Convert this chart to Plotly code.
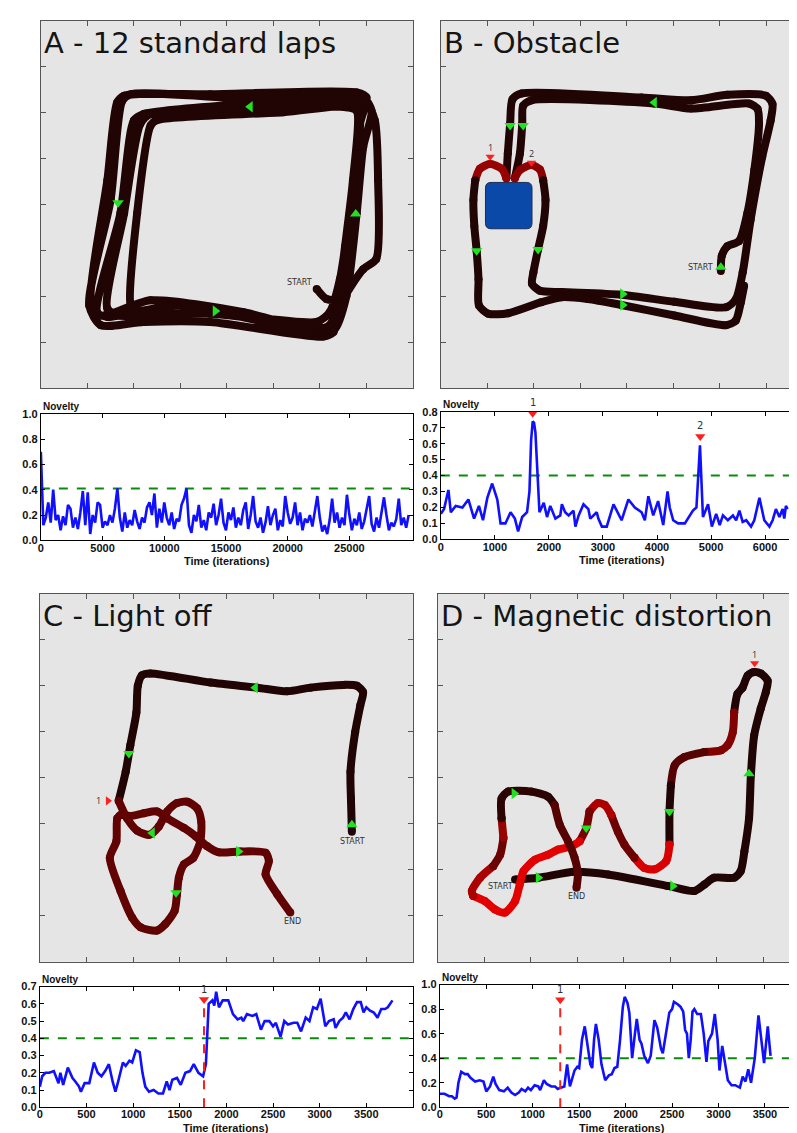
import plotly.graph_objects as go

W, H = 797, 1133

# ------------------------------------------------------------------ map data
# trajectories in map units (1 unit = 1 tick step), y up.
# each map is cut into pieces; a piece has one novelty level (0 = black, 1 = bright red)
A_X = [[5.93, 6.14, 6.39,
        6.50, 6.71, 6.82, 6.86, 6.71, 5.21, 2.50, 2.36, 2.07, 1.93, 2.07, 3.64, 5.93, 6.21,
        6.43, 6.64, 6.86, 7.00, 6.79, 3.64, 1.79, 1.64, 1.43, 1.07, 1.21, 1.50, 2.36, 4.36, 6.00, 6.32,
        6.57, 6.79, 6.93, 7.11, 6.93, 5.07, 1.93, 1.75, 1.50, 1.04, 1.29, 2.21, 3.64, 6.07, 6.29,
        6.43, 6.93, 7.21, 7.25, 7.18, 7.00, 5.79, 4.36, 2.21, 2.00, 1.71, 1.21, 1.43, 2.93, 5.79, 6.21,
        6.39, 6.54, 6.71, 6.79, 6.57, 4.36, 2.36, 2.14, 1.79, 1.43, 1.71, 3.64, 6.00]]
A_Y = [[2.16, 1.94, 1.94,
        2.37, 3.81, 5.25, 6.04, 6.15, 6.01, 5.84, 5.72, 3.81, 1.80, 1.62, 1.65, 1.44, 1.65,
        2.37, 3.81, 5.76, 6.33, 6.44, 6.40, 6.37, 6.22, 4.53, 1.94, 1.58, 1.62, 1.91, 1.65, 1.22, 1.29,
        2.01, 3.81, 5.25, 6.04, 6.33, 6.27, 6.40, 6.26, 4.10, 1.80, 1.37, 1.44, 1.44, 1.12, 1.22,
        1.80, 2.59, 2.81, 4.53, 5.83, 6.19, 6.29, 6.19, 5.97, 5.83, 3.81, 1.65, 1.55, 1.80, 1.26, 1.37,
        1.94, 3.09, 4.53, 6.04, 6.12, 6.08, 5.97, 5.76, 3.81, 1.73, 1.58, 1.62, 1.33]]
A_LEVEL = [0.05]
A_ARROW_X = [4.50, 1.66, 3.75, 6.77]
A_ARROW_Y = [6.13, 4.04, 1.68, 3.79]
A_ARROW_DIR = ["left", "down", "right", "up"]
A_LABELS = ["START"]
A_LABEL_X = [5.57]
A_LABEL_Y = [2.29]

B_X = [[6.02, 6.04, 6.16, 6.41, 6.59, 6.74, 6.84, 6.81, 6.63, 5.38, 4.59, 1.95, 1.77, 1.75, 1.70, 1.59],
       [1.70, 1.95, 2.13, 2.20],
       [2.25, 2.20, 2.09, 1.99, 1.96, 2.13, 2.59, 3.88, 5.02, 6.13, 6.34, 6.49, 6.66, 6.91, 7.09, 7.13,
        6.99, 6.16, 5.38, 4.31, 1.74, 1.54, 1.49, 1.44, 1.41],
       [1.31, 1.06, 0.84, 0.74],
       [0.70, 0.72, 0.77, 0.81, 0.82, 1.02, 1.45, 2.16, 2.59, 3.16, 3.88, 5.02, 6.13, 6.34, 6.45, 6.52]]
B_Y = [[2.55, 2.88, 3.09, 3.20, 3.81, 4.75, 5.76, 6.08, 6.20, 6.09, 6.20, 6.27, 6.15, 5.76, 5.11, 4.57],
       [4.75, 4.86, 4.76, 4.53],
       [4.10, 3.53, 3.02, 2.52, 2.27, 2.12, 2.09, 2.03, 1.88, 1.76, 1.93, 2.52, 3.67, 5.04, 5.83, 6.19,
        6.37, 6.39, 6.27, 6.33, 6.42, 6.29, 5.76, 5.11, 4.57],
       [4.78, 4.88, 4.78, 4.53],
       [4.10, 3.53, 2.99, 2.37, 1.80, 1.62, 1.63, 1.87, 1.98, 1.94, 1.81, 1.58, 1.37, 1.47, 1.87, 2.23]]
B_LEVEL = [0.05, 0.55, 0.05, 0.6, 0.05]
B_ARROW_X = [4.59, 1.49, 1.77, 0.77, 2.09, 3.91, 3.91, 6.02]
B_ARROW_Y = [6.22, 5.72, 5.72, 2.99, 3.02, 2.05, 1.81, 2.63]
B_ARROW_DIR = ["left", "down", "down", "down", "down", "right", "right", "up"]
B_LABELS = ["START"]
B_LABEL_X = [5.59]
B_LABEL_Y = [2.63]
B_EVENT_X = [1.06, 1.95]
B_EVENT_Y = [5.04, 4.91]
B_EVENT_NAME = ["1", "2"]
B_OBSTACLE = [0.96, 1.96, 3.47, 4.48]  # x0, x1, y0, y1

C_X = [[6.69, 6.67, 6.66, 6.76, 6.87, 6.93, 6.80, 6.51, 5.80, 5.30, 4.66, 3.66, 2.37, 2.19, 2.10, 2.07,
        1.94, 1.84, 1.69],
       [1.87, 2.09, 2.34, 2.55, 2.73, 2.94, 3.16, 3.37, 3.46, 3.44, 3.29, 3.09, 2.98, 2.94, 2.89, 2.69,
        2.51, 2.16, 1.98, 1.73, 1.50, 1.64, 1.66, 1.73, 1.94, 2.23, 2.51, 2.73, 3.09, 3.34, 3.59, 3.84,
        4.30, 4.84, 4.91, 4.84, 5.09, 5.37]]
C_Y = [[2.83, 3.55, 4.13, 4.99, 5.57, 5.86, 6.00, 6.02, 5.96, 5.88, 5.96, 6.07, 6.27, 6.23, 6.00, 5.42,
        4.71, 4.13, 3.50],
       [3.12, 2.85, 2.76, 2.94, 3.27, 3.45, 3.48, 3.34, 3.05, 2.62, 2.26, 2.12, 1.83, 1.47, 1.11, 0.82,
        0.68, 0.75, 0.96, 1.54, 2.26, 2.62, 3.12, 3.19, 3.17, 3.23, 3.27, 3.12, 2.91, 2.73, 2.51, 2.38,
        2.40, 2.37, 2.19, 1.90, 1.47, 1.07]]
C_LEVEL = [0.05, 0.35]
C_ARROW_X = [4.62, 1.91, 2.41, 2.92, 4.26, 6.69]
C_ARROW_Y = [5.96, 4.53, 2.80, 1.50, 2.40, 2.98]
C_ARROW_DIR = ["left", "down", "left", "down", "right", "up"]
C_LABELS = ["START", "END"]
C_LABEL_X = [6.71, 5.42]
C_LABEL_Y = [2.62, 0.87]
C_EVENT_X = [1.46]
C_EVENT_Y = [3.50]
C_EVENT_NAME = ["1"]

D_X = [[1.66, 2.16, 2.94, 3.66, 4.94, 5.51, 5.73, 5.94, 6.37, 6.51, 6.59, 6.69, 6.73, 6.80, 6.94, 7.05,
        7.09, 6.94, 6.80, 6.66, 6.55, 6.44, 6.37],
       [6.34, 6.23, 6.09, 5.73],
       [5.30, 5.09, 5.01],
       [4.98, 4.98],
       [4.91, 4.66, 4.44, 4.23],
       [4.01, 3.87, 3.73],
       [3.59, 3.44, 3.26],
       [3.19, 3.05],
       [2.87, 2.59, 2.37, 2.09, 1.84, 1.76, 1.66, 1.44, 1.23, 1.01, 0.76],
       [0.73, 0.91, 1.19],
       [1.34, 1.41],
       [1.37],
       [1.37, 1.51, 2.01, 2.37, 2.51],
       [2.62, 2.80, 2.94, 3.01, 2.98]]
D_Y = [[1.79, 1.83, 1.96, 1.90, 1.65, 1.54, 1.68, 1.83, 1.83, 1.97, 2.40, 3.12, 4.06, 4.92, 5.50, 5.86,
        6.11, 6.27, 6.30, 6.22, 5.96, 5.82, 5.42],
       [4.99, 4.71, 4.60, 4.56],
       [4.45, 4.27, 3.84],
       [3.27, 2.55],
       [2.19, 2.01, 2.04, 2.26],
       [2.55, 2.83, 3.19],
       [3.41, 3.45, 3.27],
       [2.91, 2.62],
       [2.51, 2.44, 2.33, 2.22, 1.97, 1.68, 1.32, 1.07, 1.14, 1.32, 1.43],
       [1.54, 1.83, 2.08],
       [2.33, 2.69],
       [3.12],
       [3.55, 3.70, 3.70, 3.59, 3.41],
       [2.98, 2.62, 2.26, 1.90, 1.61]]
D_LEVEL = [0.05, 0.5, 0.3, 0.05, 0.9, 0.4, 0.7, 0.45, 0.95, 0.7, 0.4, 0.6, 0.1, 0.3]
D_ARROW_X = [2.16, 5.05, 6.69, 4.98, 3.19, 1.64]
D_ARROW_Y = [1.83, 1.65, 4.09, 3.27, 2.91, 3.66]
D_ARROW_DIR = ["right", "right", "up", "down", "down", "right"]
D_LABELS = ["START", "END"]
D_LABEL_X = [1.34, 2.98]
D_LABEL_Y = [1.63, 1.41]
D_EVENT_X = [6.81]
D_EVENT_Y = [6.49]
D_EVENT_NAME = ["1"]

# ------------------------------------------------------------------ novelty data
NA_T = list(range(0, 30000, 200))
NA_V = [0.70, 0.12, 0.18, 0.30, 0.14, 0.40, 0.16, 0.20, 0.08, 0.19,
        0.12, 0.28, 0.25, 0.10, 0.18, 0.09, 0.22, 0.39, 0.12, 0.38,
        0.05, 0.20, 0.14, 0.30, 0.28, 0.10, 0.15, 0.12, 0.20, 0.14,
        0.25, 0.41, 0.18, 0.07, 0.22, 0.10, 0.16, 0.12, 0.24, 0.15,
        0.09, 0.18, 0.14, 0.26, 0.30, 0.20, 0.37, 0.10, 0.25, 0.14,
        0.30, 0.18, 0.12, 0.22, 0.09, 0.17, 0.15, 0.28, 0.33, 0.41,
        0.12, 0.06, 0.20, 0.15, 0.28, 0.10, 0.16, 0.08, 0.22, 0.18,
        0.29, 0.12, 0.20, 0.33, 0.14, 0.08, 0.22, 0.16, 0.26, 0.10,
        0.18, 0.12, 0.24, 0.30, 0.09, 0.20, 0.35, 0.15, 0.10, 0.18,
        0.06, 0.14, 0.27, 0.12, 0.20, 0.25, 0.08, 0.16, 0.11, 0.35,
        0.22, 0.13, 0.18, 0.30, 0.12, 0.22, 0.08, 0.17, 0.14, 0.20,
        0.11, 0.25, 0.35, 0.18, 0.07, 0.12, 0.05, 0.16, 0.33, 0.14,
        0.22, 0.10, 0.18, 0.12, 0.36, 0.20, 0.08, 0.17, 0.12, 0.22,
        0.09, 0.15, 0.24, 0.35, 0.13, 0.07, 0.18, 0.10, 0.22, 0.34,
        0.20, 0.08, 0.14, 0.11, 0.17, 0.33, 0.12, 0.18, 0.10, 0.20]
NA_THRESHOLD = 0.41

NB_T = [0, 60, 140, 185, 275, 400, 510, 615, 705, 780, 860, 950, 1045, 1105, 1195, 1290, 1370, 1430,
        1505, 1595, 1640, 1670, 1700, 1725, 1750, 1825, 1905, 1965, 2025, 2120, 2210, 2240, 2300,
        2365, 2455, 2490, 2550, 2640, 2730, 2765, 2885, 2915, 2980, 3070, 3195, 3285, 3345, 3470,
        3590, 3715, 3775, 3840, 3930, 4020, 4115, 4195, 4235, 4300, 4390, 4515, 4575, 4665, 4730,
        4795, 4850, 4945, 5015, 5095, 5160, 5220, 5310, 5405, 5465, 5525, 5585, 5650, 5740, 5800,
        5895, 5985, 6080, 6140, 6200, 6265, 6325, 6355, 6385, 6415]
NB_V = [0.16, 0.19, 0.31, 0.17, 0.21, 0.20, 0.25, 0.13, 0.21, 0.12, 0.26, 0.35, 0.25, 0.10, 0.10,
        0.17, 0.13, 0.05, 0.14, 0.17, 0.30, 0.62, 0.74, 0.73, 0.67, 0.17, 0.23, 0.14, 0.21, 0.13,
        0.15, 0.22, 0.17, 0.15, 0.18, 0.08, 0.15, 0.22, 0.19, 0.13, 0.17, 0.13, 0.08, 0.08, 0.22,
        0.16, 0.12, 0.25, 0.20, 0.17, 0.12, 0.27, 0.15, 0.24, 0.09, 0.30, 0.20, 0.12, 0.10, 0.10,
        0.13, 0.18, 0.20, 0.59, 0.14, 0.22, 0.08, 0.16, 0.09, 0.15, 0.12, 0.15, 0.12, 0.18, 0.11,
        0.12, 0.08, 0.12, 0.26, 0.12, 0.08, 0.12, 0.19, 0.14, 0.19, 0.13, 0.21, 0.19]
NB_THRESHOLD = 0.40
NB_EVENT_T = [1700, 4800]
NB_EVENT_V = [0.79, 0.645]
NB_EVENT_NAME = ["1", "2"]

NC_T = [0, 25, 60, 100, 150, 200, 220, 250, 300, 350, 380, 420, 440, 480, 530, 580, 620, 660, 700,
        740, 780, 810, 840, 890, 920, 960, 990, 1030, 1070, 1100, 1130, 1170, 1220, 1270, 1320, 1360,
        1390, 1420, 1470, 1510, 1560, 1610, 1650, 1700, 1750, 1780, 1810, 1850, 1870, 1890, 1920,
        1960, 2020, 2070, 2120, 2160, 2180, 2220, 2280, 2320, 2370, 2410, 2460, 2500, 2530, 2580,
        2620, 2660, 2720, 2760, 2800, 2850, 2890, 2930, 2970, 3010, 3060, 3100, 3150, 3170, 3210,
        3250, 3280, 3320, 3360, 3400, 3440, 3470, 3500, 3540, 3580, 3620, 3660, 3700, 3730, 3780]
NC_V = [0.12, 0.18, 0.20, 0.20, 0.21, 0.14, 0.20, 0.13, 0.23, 0.17, 0.15, 0.12, 0.09, 0.14, 0.14,
        0.26, 0.20, 0.18, 0.21, 0.25, 0.15, 0.09, 0.15, 0.26, 0.24, 0.27, 0.26, 0.33, 0.32, 0.20,
        0.12, 0.09, 0.10, 0.08, 0.08, 0.15, 0.10, 0.16, 0.17, 0.13, 0.20, 0.21, 0.25, 0.20, 0.18,
        0.25, 0.60, 0.62, 0.59, 0.67, 0.58, 0.62, 0.62, 0.54, 0.51, 0.52, 0.50, 0.54, 0.53, 0.54,
        0.45, 0.50, 0.50, 0.47, 0.49, 0.41, 0.50, 0.48, 0.49, 0.49, 0.44, 0.52, 0.50, 0.58, 0.57,
        0.63, 0.47, 0.50, 0.51, 0.46, 0.50, 0.52, 0.55, 0.51, 0.57, 0.61, 0.61, 0.55, 0.58, 0.56,
        0.55, 0.52, 0.57, 0.57, 0.58, 0.62]
NC_THRESHOLD = 0.40
NC_EVENT_T = [1760]
NC_EVENT_V = [0.625]
NC_EVENT_NAME = ["1"]

ND_T = [0, 50, 100, 130, 160, 180, 200, 230, 270, 300, 330, 380, 430, 470, 500, 540, 575, 600, 640,
        690, 730, 770, 810, 850, 880, 920, 950, 980, 1020, 1060, 1080, 1120, 1150, 1200, 1240, 1270,
        1300, 1340, 1370, 1400, 1450, 1480, 1500, 1530, 1560, 1590, 1620, 1640, 1660, 1680, 1710,
        1740, 1780, 1820, 1850, 1880, 1910, 1940, 1970, 1990, 2020, 2040, 2070, 2100, 2120, 2150,
        2170, 2200, 2240, 2270, 2310, 2340, 2380, 2400, 2440, 2470, 2500, 2520, 2560, 2590, 2620,
        2640, 2660, 2680, 2700, 2720, 2740, 2770, 2810, 2840, 2870, 2890, 2930, 2960, 2990, 3010,
        3040, 3070, 3100, 3140, 3180, 3230, 3260, 3290, 3320, 3350, 3390, 3430, 3460, 3490, 3530, 3560]
ND_V = [0.11, 0.11, 0.09, 0.09, 0.07, 0.08, 0.20, 0.29, 0.27, 0.27, 0.24, 0.21, 0.22, 0.21, 0.13,
        0.17, 0.25, 0.19, 0.14, 0.13, 0.16, 0.12, 0.10, 0.12, 0.15, 0.13, 0.16, 0.14, 0.18, 0.17,
        0.14, 0.22, 0.19, 0.17, 0.17, 0.15, 0.16, 0.17, 0.35, 0.17, 0.30, 0.33, 0.32, 0.55, 0.66,
        0.50, 0.35, 0.32, 0.55, 0.68, 0.55, 0.35, 0.22, 0.26, 0.27, 0.32, 0.33, 0.55, 0.82, 0.90,
        0.85, 0.77, 0.40, 0.60, 0.72, 0.55, 0.52, 0.42, 0.36, 0.42, 0.71, 0.65, 0.48, 0.44, 0.62,
        0.77, 0.80, 0.86, 0.84, 0.82, 0.78, 0.63, 0.60, 0.40, 0.55, 0.78, 0.80, 0.76, 0.76, 0.60,
        0.37, 0.54, 0.60, 0.76, 0.55, 0.30, 0.50, 0.35, 0.22, 0.18, 0.18, 0.16, 0.25, 0.21, 0.31,
        0.20, 0.40, 0.75, 0.55, 0.36, 0.66, 0.42]
ND_THRESHOLD = 0.40
ND_EVENT_T = [1296]
ND_EVENT_V = [0.876]
ND_EVENT_NAME = ["1"]

# ------------------------------------------------------------------ styling
MAP_BG = "#e5e5e5"
FRAME = "#555555"
ARROW_GREEN = "#22e022"
EVENT_RED = "#ff1e1e"
TICK_FONT = dict(family="Liberation Sans, Arial, sans-serif", size=11, color="#111111", weight="bold")
PATH_WIDTH = 8

fig = go.Figure()
shapes, annotations, layout_axes = [], [], {}


def refs(n):
    return ("x" if n == 1 else f"x{n}"), ("y" if n == 1 else f"y{n}")


def level_color(level):
    return f"rgb({round(22 + 215 * level)},{round(4 * (1 - level))},{round(4 * (1 - level))})"


def dom_x(left, right):
    return [left / W, min(right, W) / W]


def dom_y(top, bottom):
    return [1 - bottom / H, 1 - top / H]


def add_map(n, box, title, xs, ys, levels, ax, ay, adir, lab, lx, ly,
            ev_x=(), ev_y=(), ev_name=(), ev_dir="down"):
    left, top, right, bottom = box
    xr, yr = refs(n)
    x_max = 8 * (min(right, W) - left) / (right - left)
    common = dict(showgrid=False, zeroline=False, showticklabels=False, ticks="inside",
                  ticklen=5, tickcolor=FRAME, tickvals=[1, 2, 3, 4, 5, 6, 7], showline=True,
                  linecolor=FRAME, linewidth=1, mirror="ticks", fixedrange=True)
    layout_axes[xr.replace("x", "xaxis")] = dict(domain=dom_x(left, right), range=[0, x_max],
                                                 anchor=yr, **common)
    layout_axes[yr.replace("y", "yaxis")] = dict(domain=dom_y(top, bottom), range=[0, 8],
                                                 anchor=xr, **common)
    shapes.append(dict(type="rect", xref=f"{xr} domain", yref=f"{yr} domain", x0=0, x1=1, y0=0,
                       y1=1, fillcolor=MAP_BG, line_width=0, layer="below"))

    # each piece starts at the last point of the previous one; markers round off the joints
    prev = None
    for px, py, lv in zip(xs, ys, levels):
        tx = ([prev[0]] if prev else []) + list(px)
        ty = ([prev[1]] if prev else []) + list(py)
        col = level_color(lv)
        fig.add_trace(go.Scatter(x=tx, y=ty, mode="lines+markers", xaxis=xr, yaxis=yr,
                                 line=dict(color=col, width=PATH_WIDTH, shape="spline",
                                           smoothing=0.7),
                                 marker=dict(size=PATH_WIDTH, color=col, line_width=0),
                                 hoverinfo="skip"))
        prev = (px[-1], py[-1])

    fig.add_trace(go.Scatter(x=ax, y=ay, mode="markers", xaxis=xr, yaxis=yr,
                             marker=dict(symbol=[f"triangle-{d}" for d in adir], size=10,
                                         color=ARROW_GREEN, line_width=0),
                             hoverinfo="skip"))
    if ev_x:
        fig.add_trace(go.Scatter(x=list(ev_x), y=list(ev_y), mode="markers", xaxis=xr, yaxis=yr,
                                 marker=dict(symbol=f"triangle-{ev_dir}", size=8, color=EVENT_RED,
                                             line_width=0),
                                 hoverinfo="skip"))
        for ex, ey, name in zip(ev_x, ev_y, ev_name):
            if ev_dir == "down":
                annotations.append(dict(x=ex, y=ey + 0.2, xref=xr, yref=yr, text=name,
                                        showarrow=False, font=dict(size=9, color="#333")))
            else:
                annotations.append(dict(x=ex - 0.2, y=ey, xref=xr, yref=yr, text=name,
                                        showarrow=False, font=dict(size=9, color="#333")))
    for t, x, y in zip(lab, lx, ly):
        annotations.append(dict(x=x, y=y, xref=xr, yref=yr, text=t, showarrow=False,
                                font=dict(family="DejaVu Sans", size=8, color="#333")))
    annotations.append(dict(x=0.004, y=0.992, xref=f"{xr} domain", yref=f"{yr} domain",
                            text=title, showarrow=False, xanchor="left", yanchor="top",
                            font=dict(family="DejaVu Sans", size=29, color="#151515")))


def add_novelty(n, box, t, v, x_max, x_ticks, y_max, y_step, threshold,
                ev_t=(), ev_v=(), ev_name=(), ev_line=False):
    left, top, right, bottom = box
    xr, yr = refs(n)
    common = dict(showgrid=False, zeroline=False, ticks="inside", ticklen=4, tickcolor="#000",
                  showline=True, linecolor="#000", linewidth=1, mirror="ticks",
                  tickfont=TICK_FONT, fixedrange=True)
    layout_axes[xr.replace("x", "xaxis")] = dict(
        domain=dom_x(left, right), range=[0, x_max], anchor=yr, tickvals=x_ticks,
        tickformat="d", ticklabelstandoff=-3, **common)
    layout_axes[yr.replace("y", "yaxis")] = dict(
        domain=dom_y(top, bottom), range=[0, y_max], anchor=xr, dtick=y_step,
        tickformat=".1f", **common)

    fig.add_trace(go.Scatter(x=[0, x_max], y=[threshold, threshold], mode="lines",
                             xaxis=xr, yaxis=yr,
                             line=dict(color="#0a8a0a", width=2, dash="dash"), hoverinfo="skip"))
    fig.add_trace(go.Scatter(x=t, y=v, mode="lines", xaxis=xr, yaxis=yr,
                             line=dict(color="#1010ff", width=2.6), hoverinfo="skip"))
    if ev_t:
        if ev_line:
            for et, ev in zip(ev_t, ev_v):
                fig.add_trace(go.Scatter(x=[et, et], y=[0, ev], mode="lines", xaxis=xr, yaxis=yr,
                                         line=dict(color=EVENT_RED, width=2, dash="dash"),
                                         hoverinfo="skip"))
        fig.add_trace(go.Scatter(x=list(ev_t), y=list(ev_v), mode="markers", xaxis=xr, yaxis=yr,
                                 marker=dict(symbol="triangle-down", size=9, color=EVENT_RED,
                                             line_width=0),
                                 cliponaxis=False, hoverinfo="skip"))
        for et, ev, name in zip(ev_t, ev_v, ev_name):
            annotations.append(dict(x=et, y=ev, xref=xr, yref=yr, text=name, showarrow=False,
                                    yanchor="bottom", yshift=3,
                                    font=dict(family="DejaVu Sans", size=10, color="#333")))
    annotations.append(dict(x=0, y=1, xref=f"{xr} domain", yref=f"{yr} domain", text="Novelty",
                            showarrow=False, xanchor="left", yanchor="bottom",
                            font=dict(family="Liberation Sans, Arial", size=10, color="#111",
                                      weight="bold")))
    # x-axis title, placed close under the tick labels
    annotations.append(dict(x=0.5, y=0, xref=f"{xr} domain", yref=f"{yr} domain",
                            text="Time (iterations)", showarrow=False, xanchor="center",
                            yanchor="top", yshift=-13, font=TICK_FONT))


add_map(1, (30, 7, 404, 378), "A - 12 standard laps", A_X, A_Y, A_LEVEL,
        A_ARROW_X, A_ARROW_Y, A_ARROW_DIR, A_LABELS, A_LABEL_X, A_LABEL_Y)
add_map(2, (432, 7, 806, 378), "B - Obstacle", B_X, B_Y, B_LEVEL,
        B_ARROW_X, B_ARROW_Y, B_ARROW_DIR, B_LABELS, B_LABEL_X, B_LABEL_Y,
        B_EVENT_X, B_EVENT_Y, B_EVENT_NAME, "down")
add_map(5, (29, 586, 404, 958), "C - Light off", C_X, C_Y, C_LEVEL,
        C_ARROW_X, C_ARROW_Y, C_ARROW_DIR, C_LABELS, C_LABEL_X, C_LABEL_Y,
        C_EVENT_X, C_EVENT_Y, C_EVENT_NAME, "right")
add_map(6, (429, 586, 803, 958), "D - Magnetic distortion", D_X, D_Y, D_LEVEL,
        D_ARROW_X, D_ARROW_Y, D_ARROW_DIR, D_LABELS, D_LABEL_X, D_LABEL_Y,
        D_EVENT_X, D_EVENT_Y, D_EVENT_NAME, "down")

# obstacle in B (rounded blue block)
x0, x1, y0, y1 = B_OBSTACLE
r = 0.12
shapes.append(dict(
    type="path", xref="x2", yref="y2",
    path=(f"M {x0 + r},{y0} L {x1 - r},{y0} Q {x1},{y0} {x1},{y0 + r} L {x1},{y1 - r} "
          f"Q {x1},{y1} {x1 - r},{y1} L {x0 + r},{y1} Q {x0},{y1} {x0},{y1 - r} "
          f"L {x0},{y0 + r} Q {x0},{y0} {x0 + r},{y0} Z"),
    fillcolor="#0b49a8", line=dict(color="#1b2d55", width=1)))

# novelty panels: the right-hand ones run to the page edge, like the reference crop
add_novelty(3, (30, 404, 404, 532), NA_T, NA_V, 30150,
            [0, 5000, 10000, 15000, 20000, 25000], 1.0, 0.2, NA_THRESHOLD)
add_novelty(4, (432, 402, 797, 531), NB_T, NB_V, 6720,
            [0, 1000, 2000, 3000, 4000, 5000, 6000], 0.8, 0.1, NB_THRESHOLD,
            NB_EVENT_T, NB_EVENT_V, NB_EVENT_NAME)
add_novelty(7, (29, 983, 404, 1105), NC_T, NC_V, 4000,
            [0, 500, 1000, 1500, 2000, 2500, 3000, 3500], 0.7, 0.1, NC_THRESHOLD,
            NC_EVENT_T, NC_EVENT_V, NC_EVENT_NAME, ev_line=True)
add_novelty(8, (431, 981, 797, 1105), ND_T, ND_V, 3920,
            [0, 500, 1000, 1500, 2000, 2500, 3000, 3500], 1.0, 0.2, ND_THRESHOLD,
            ND_EVENT_T, ND_EVENT_V, ND_EVENT_NAME, ev_line=True)

fig.update_layout(
    width=W, height=H,
    margin=dict(l=0, r=0, t=0, b=0),
    paper_bgcolor="white", plot_bgcolor="white",
    showlegend=False,
    shapes=shapes, annotations=annotations,
    **layout_axes,
)

fig.write_html("out.html")
